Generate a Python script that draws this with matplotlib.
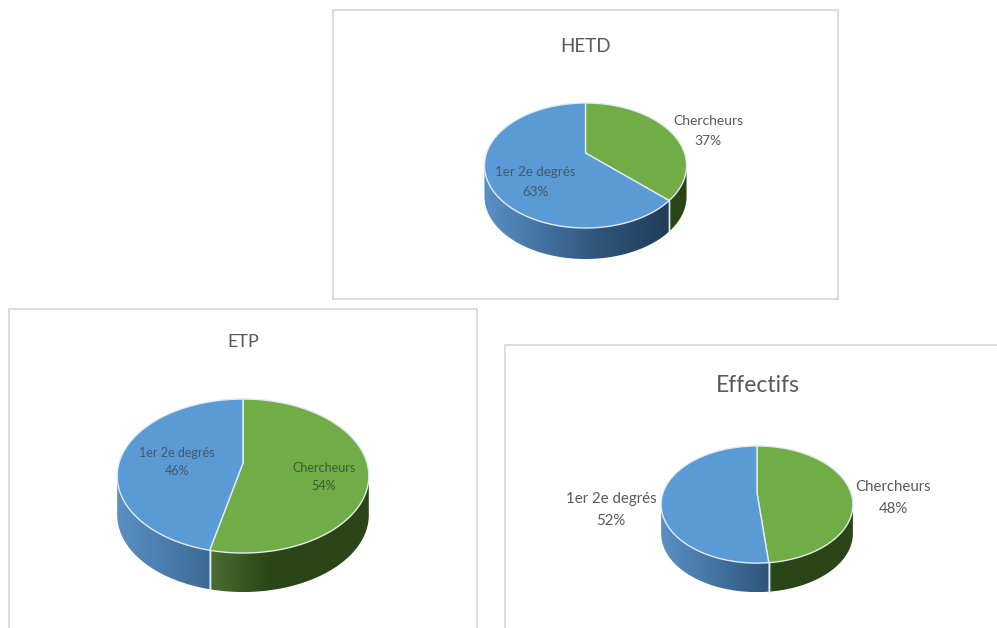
import numpy as np
import matplotlib
matplotlib.use("Agg")
import matplotlib.pyplot as plt
from matplotlib.colors import LinearSegmentedColormap
from matplotlib.patches import Polygon, Rectangle

# ---- data ----
titles = ["HETD", "ETP", "Effectifs"]
categories = ["Chercheurs", "1er 2e degrés"]
hetd_labels = [37, 63]
etp_labels = [54, 46]
effectifs_labels = [48, 52]
# slice shares as read from the drawn wedges
hetd_values = [37, 63]
etp_values = [53.6, 46.4]
effectifs_values = [48.4, 51.6]

# ---- layout (pixels) ----
W, H = 997, 628
FONT = "Lato"
TXT = "#595959"
GREEN, BLUE = "#70ad47", "#5b9bd5"
RIM = "#e2eaf2"

blue_side = LinearSegmentedColormap.from_list(
    "b", [(0, "#5a90c4"), (.37, "#3d6a96"), (.55, "#30567c"), (1, "#1d3850")])
green_side = LinearSegmentedColormap.from_list(
    "g", [(0, "#4a6e30"), (.37, "#4a6e30"), (.6, "#2a4517"), (1, "#2a4517")])

fig = plt.figure(figsize=(W / 100, H / 100), dpi=100, facecolor="white")
ax = fig.add_axes([0, 0, 1, 1])
ax.set_axis_off()


def rim(geo, theta):
    cx, cy, a, b, k = geo["cx"], geo["cy"], geo["a"], geo["b"], geo["k"]
    w = 1 / (1 + k * np.cos(theta))
    return cx + a * np.sin(theta) * w, cy - b * np.cos(theta) * w


def draw_pie(values, geo):
    total = sum(values)
    edges = 2 * np.pi * np.cumsum([0] + list(values)) / total
    k, depth = geo["k"], geo["depth"]
    lo, hi = np.arccos(-k), 2 * np.pi - np.arccos(-k)
    left = geo["cx"] - geo["a"] * 1.02
    width = geo["a"] * 2.04
    # side walls
    for i, (t0, t1) in enumerate(zip(edges[:-1], edges[1:])):
        s0, s1 = max(t0, lo), min(t1, hi)
        if s1 <= s0:
            continue
        th = np.linspace(s0, s1, 200)
        x, y = rim(geo, th)
        px = np.r_[x, x[::-1]]
        py = np.r_[y, y[::-1] + depth]
        poly = Polygon(np.c_[px, py], closed=True, fc="none", ec="none")
        ax.add_patch(poly)
        xs = np.linspace(px.min(), px.max(), 256)
        cmap = blue_side if i == 1 else green_side
        colours = cmap((xs - left) / width)
        im = ax.imshow(colours[None, :, :], extent=(xs[0], xs[-1], py.max(), py.min()),
                       aspect="auto", zorder=2, interpolation="bilinear")
        im.set_clip_path(poly)
        # separators on the wall
        for t in (t0, t1):
            if lo < t < hi:
                xe, ye = rim(geo, np.array([t]))
                ax.plot([xe[0], xe[0]], [ye[0], ye[0] + depth], color=RIM, lw=1, zorder=3)
    # top faces
    apex = (geo["cx"], geo["cy"])
    for i, (t0, t1) in enumerate(zip(edges[:-1], edges[1:])):
        th = np.linspace(t0, t1, 300)
        x, y = rim(geo, th)
        pts = np.vstack([[apex], np.c_[x, y]])
        ax.add_patch(Polygon(pts, closed=True, fc=(GREEN, BLUE)[i], ec=RIM, lw=1.0,
                             joinstyle="round", zorder=4))


def label(text, xy, size, color=TXT, gap=1.2):
    ax.text(xy[0], xy[1], text, ha="center", va="center", fontsize=size, color=color,
            family=FONT, zorder=6, linespacing=gap)


# frames
for x0, y0, x1, y1 in [(333, 10, 838, 299), (9, 309, 477, 640), (505, 345, 1010, 640)]:
    ax.add_patch(Rectangle((x0, y0), x1 - x0, y1 - y0, fc="white", ec="#d9d9d9", lw=1.3, zorder=1))

geo_hetd = dict(cx=585.5, cy=153, a=99, b=60, k=.20, depth=31)
geo_etp = dict(cx=243, cy=463, a=124, b=74.8, k=.169, depth=39)
geo_eff = dict(cx=757, cy=493, a=94, b=56.3, k=.197, depth=29)

draw_pie(hetd_values, geo_hetd)
draw_pie(etp_values, geo_etp)
draw_pie(effectifs_values, geo_eff)

label(titles[0], (585, 47), 13.5)
label(titles[1], (243, 342), 13)
label(titles[2], (758, 385), 16.5)


def pct(cat, v):
    return f"{cat}\n{v}%"


label(pct(categories[0], hetd_labels[0]), (708, 131), 10, gap=1.85)
label(pct(categories[1], hetd_labels[1]), (535, 182), 9.6, color="#44586c", gap=1.7)
label(pct(categories[1], etp_labels[1]), (177, 462), 9, color="#44586c", gap=1.6)
label(pct(categories[0], etp_labels[0]), (324, 477), 9, color="#3f5a35", gap=1.6)
label(pct(categories[1], effectifs_labels[1]), (611, 510), 10.8, gap=1.8)
label(pct(categories[0], effectifs_labels[0]), (893, 498), 10.8, gap=1.8)

ax.set_xlim(0, W)
ax.set_ylim(H, 0)
fig.savefig("out.png", dpi=100, facecolor="white")
